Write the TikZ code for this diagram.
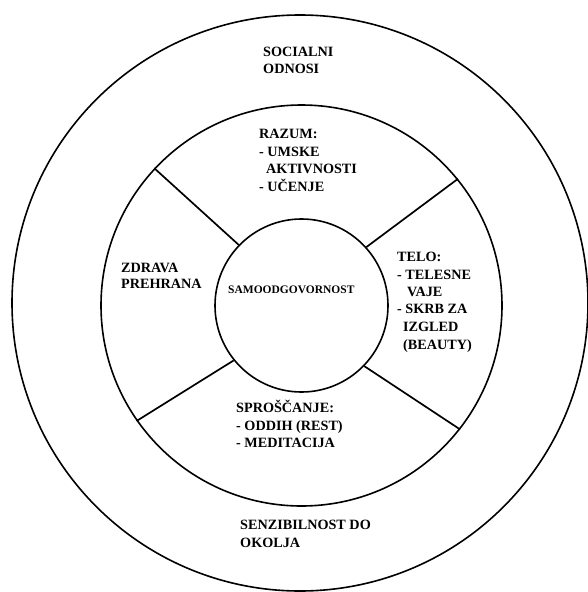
\documentclass[tikz,border=0pt]{standalone}
\usepackage{fontspec}
\setmainfont{Liberation Serif}
\begin{document}
\begin{tikzpicture}[x=1pt,y=-1pt,
  ring/.style={draw, circle, line width=1.6pt, inner sep=0pt},
  spoke/.style={line width=1.7pt},
  lbl/.style={anchor=base west, inner sep=0pt, font=\fontsize{14.2}{17}\selectfont\bfseries},
  corelbl/.style={anchor=base west, inner sep=0pt, font=\fontsize{11.5}{14}\selectfont\bfseries}]
\useasboundingbox (0,0) rectangle (587,592);
\fill[white] (0,0) rectangle (587,592);

% three rings
\node[ring, minimum size=576pt] (outer) at (300,303) {};
\node[ring, minimum size=401pt] (middle) at (301.5,305.5) {};
\node[ring, minimum size=173pt] (core) at (301.5,305.5) {};

% four spokes between the core and the middle ring
\draw[spoke] (middle.137.8) -- (core.136.3);
\draw[spoke] (middle.39.5)  -- (core.42.9);
\draw[spoke] (middle.215.4) -- (core.219.0);
\draw[spoke] (middle.322.5) -- (core.316.8);

% outer ring
\node[lbl] (soc1) at (263,56) {SOCIALNI};
\node[lbl] (soc2) at (263,73) {ODNOSI};
\node[lbl] (sen1) at (240,529) {SENZIBILNOST DO};
\node[lbl] (sen2) at (240,547) {OKOLJA};

% top sector
\node[lbl] (raz1) at (259,138) {RAZUM:};
\node[lbl] (raz2) at (259,156) {- UMSKE};
\node[lbl] (raz3) at (266,173) {AKTIVNOSTI};
\node[lbl] (raz4) at (259,191) {- UČENJE};

% left sector
\node[lbl] (zdr1) at (121,272) {ZDRAVA};
\node[lbl] (zdr2) at (121,288) {PREHRANA};

% right sector
\node[lbl] (tel1) at (397,261) {TELO:};
\node[lbl] (tel2) at (397,279) {- TELESNE};
\node[lbl] (tel3) at (407,296) {VAJE};
\node[lbl] (tel4) at (397,313) {- SKRB ZA};
\node[lbl] (tel5) at (403,331) {IZGLED};
\node[lbl] (tel6) at (403,349) {(BEAUTY)};

% bottom sector
\node[lbl] (spr1) at (236,412) {SPROŠČANJE:};
\node[lbl] (spr2) at (236,430) {- ODDIH (REST)};
\node[lbl] (spr3) at (236,447) {- MEDITACIJA};

% core
\node[corelbl] (selfresp) at (228,293) {SAMOODGOVORNOST};
\end{tikzpicture}
\end{document}
